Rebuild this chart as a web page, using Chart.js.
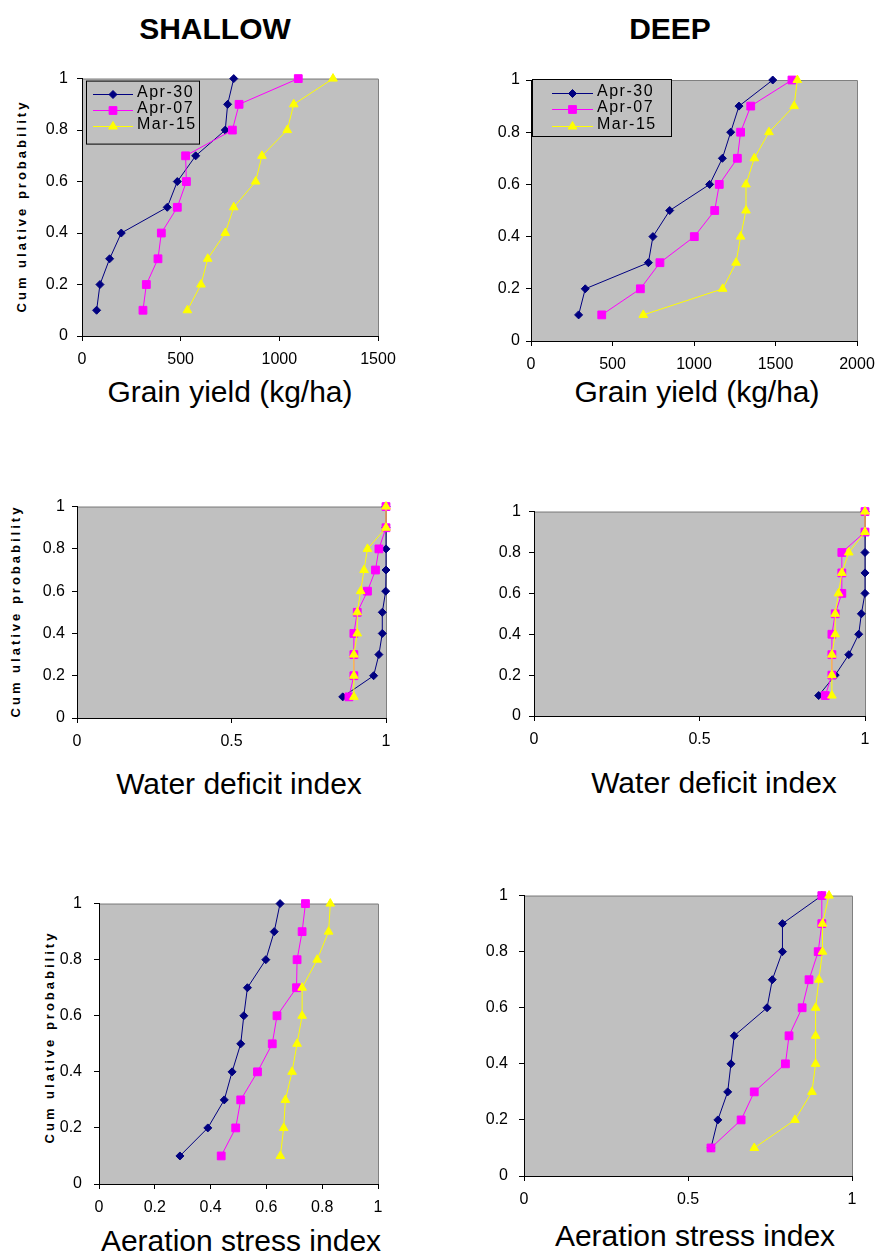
<!DOCTYPE html>
<html>
<head>
<meta charset="utf-8">
<script src="https://cdn.jsdelivr.net/npm/chart.js@4"></script>
<style>
  body { margin: 0; background: #fff; }
  #page { position: relative; width: 879px; height: 1254px; overflow: hidden; font-family: "Liberation Sans", Arial, sans-serif; color: #000; }
  canvas { position: absolute; }
  .t { position: absolute; white-space: nowrap; transform: translateX(-50%); font-size: 30px; line-height: 30px; }
  .head { font-weight: bold; }
  .ylab { position: absolute; white-space: nowrap; font-weight: bold; font-size: 13px; letter-spacing: 3px;
          transform: translate(-50%, -50%) rotate(-90deg); }
</style>
</head>
<body>
<div id="page">
  <div class="t head" style="left:215px; top:14px;">SHALLOW</div>
  <div class="t head" style="left:670px; top:14px;">DEEP</div>

  <div class="t" style="left:230px; top:377px;">Grain yield (kg/ha)</div>
  <div class="t" style="left:697px; top:377px;">Grain yield (kg/ha)</div>
  <div class="t" style="left:239px; top:769px;">Water deficit index</div>
  <div class="t" style="left:714px; top:768px;">Water deficit index</div>
  <div class="t" style="left:241px; top:1226px;">Aeration stress index</div>
  <div class="t" style="left:695px; top:1221px;">Aeration stress index</div>

  <div class="ylab" style="left:21px; top:206px;">Cum ulative probability</div>
  <div class="ylab" style="left:15px; top:611px;">Cum ulative probability</div>
  <div class="ylab" style="left:49px; top:1037px;">Cum ulative probability</div>
</div>

<script>
// cumulative probability levels (y of every point)
const probs = [0.1, 0.2, 0.3, 0.4, 0.5, 0.6, 0.7, 0.8, 0.9, 1.0];
const seriesNames = ['Apr-30', 'Apr-07', 'Mar-15'];

// grain yield (kg/ha)
const shallowYieldApr30 = [74, 91, 140, 199, 432, 483, 576, 726, 738, 769];
const shallowYieldApr07 = [309, 326, 385, 402, 483, 529, 525, 762, 796, 1096];
const shallowYieldMar15 = [534, 603, 637, 726, 769, 880, 912, 1040, 1073, 1272];
const deepYieldApr30 = [292, 333, 720, 748, 851, 1096, 1174, 1225, 1276, 1483];
const deepYieldApr07 = [434, 671, 791, 1002, 1127, 1155, 1266, 1286, 1348, 1601];
const deepYieldMar15 = [689, 1176, 1258, 1286, 1319, 1319, 1370, 1460, 1614, 1634];

// water deficit index
const shallowWdiApr30 = [0.86, 0.96, 0.977, 0.988, 0.988, 0.999, 1, 1, 1, 1];
const shallowWdiApr07 = [0.88, 0.896, 0.896, 0.896, 0.907, 0.94, 0.966, 0.977, 1, 1];
const shallowWdiMar15 = [0.896, 0.896, 0.896, 0.907, 0.907, 0.918, 0.929, 0.94, 1, 1];
const deepWdiApr30 = [0.86, 0.91, 0.951, 0.981, 0.989, 1, 1, 1, 1, 1];
const deepWdiApr07 = [0.88, 0.9, 0.9, 0.9, 0.91, 0.93, 0.93, 0.93, 1, 1];
const deepWdiMar15 = [0.9, 0.9, 0.9, 0.91, 0.91, 0.92, 0.93, 0.951, 1, 1];

// aeration stress index
const shallowAsiApr30 = [0.29, 0.39, 0.449, 0.477, 0.508, 0.519, 0.532, 0.598, 0.628, 0.649];
const shallowAsiApr07 = [0.438, 0.49, 0.508, 0.568, 0.621, 0.638, 0.708, 0.71, 0.728, 0.74];
const shallowAsiMar15 = [0.65, 0.662, 0.668, 0.692, 0.71, 0.728, 0.728, 0.782, 0.823, 0.829];
const deepAsiApr30 = [0.57, 0.591, 0.621, 0.631, 0.641, 0.741, 0.757, 0.788, 0.788, 0.908];
const deepAsiApr07 = [0.57, 0.662, 0.702, 0.797, 0.808, 0.848, 0.869, 0.897, 0.908, 0.908];
const deepAsiMar15 = [0.702, 0.826, 0.878, 0.889, 0.889, 0.889, 0.899, 0.91, 0.91, 0.93];

// tick labels
const probTicks = [0, 0.2, 0.4, 0.6, 0.8, 1];
const shallowYieldTicks = [0, 500, 1000, 1500];
const deepYieldTicks = [0, 500, 1000, 1500, 2000];
const halfTicks = [0, 0.5, 1];
const fifthTicks = [0, 0.2, 0.4, 0.6, 0.8, 1];

const looks = [
  { color: '#000080', point: 'rectRot', r: 4 },
  { color: '#FF00FF', point: 'rect', r: 5.5 },
  { color: '#FFFF00', point: 'triangle', r: 5 }
];

// gray plot area, gray top/right frame
const plotBg = {
  id: 'plotBg',
  beforeDraw(chart) {
    const { ctx, chartArea: a } = chart;
    ctx.save();
    ctx.fillStyle = '#c0c0c0';
    ctx.fillRect(a.left, a.top, a.right - a.left, a.bottom - a.top);
    ctx.strokeStyle = '#808080';
    ctx.lineWidth = 1;
    ctx.beginPath();
    ctx.moveTo(a.left, a.top + 0.5);
    ctx.lineTo(a.right + 0.5, a.top + 0.5);
    ctx.lineTo(a.right + 0.5, a.bottom);
    ctx.stroke();
    ctx.restore();
  }
};

// boxed legend inside the plot area
const boxLegend = {
  id: 'boxLegend',
  afterDatasetsDraw(chart, args, o) {
    if (!o || !o.show) return;
    const { ctx, chartArea: a } = chart;
    const x0 = a.left + o.dx, y0 = a.top + o.dy;
    ctx.save();
    ctx.fillStyle = '#c0c0c0';
    ctx.fillRect(x0, y0, o.w, o.h);
    ctx.strokeStyle = '#000';
    ctx.lineWidth = 1;
    ctx.strokeRect(x0 + 0.5, y0 + 0.5, o.w, o.h);
    chart.data.datasets.forEach((ds, i) => {
      const y = Math.round(y0 + o.rows[i]) + 0.5;
      ctx.strokeStyle = ds.borderColor;
      ctx.fillStyle = ds.backgroundColor;
      ctx.lineWidth = 1;
      ctx.beginPath();
      ctx.moveTo(x0 + o.line[0], y);
      ctx.lineTo(x0 + o.line[1], y);
      ctx.stroke();
      Chart.helpers.drawPoint(ctx, { pointStyle: ds.pointStyle, radius: ds.pointRadius, borderWidth: 1, rotation: 0 },
        x0 + (o.line[0] + o.line[1]) / 2, y);
      ctx.fillStyle = '#000';
      ctx.font = '16px "Liberation Sans", Arial, sans-serif';
      ctx.letterSpacing = '1.5px';
      ctx.textBaseline = 'middle';
      ctx.textAlign = 'left';
      ctx.fillText(ds.label, x0 + o.text, y - 1.5);
    });
    ctx.restore();
  }
};

const panels = [
  { box: [82, 76, 378, 336], xMax: 1500, xTicks: shallowYieldTicks, yPad: 9,
    series: [shallowYieldApr30, shallowYieldApr07, shallowYieldMar15],
    legend: { show: true, dx: 4, dy: 2, w: 113, h: 63, rows: [13.5, 29.5, 45], line: [7, 47], text: 51 } },
  { box: [531, 80, 857, 341], xMax: 2000, xTicks: deepYieldTicks, yPad: 6,
    series: [deepYieldApr30, deepYieldApr07, deepYieldMar15],
    legend: { show: true, dx: 1, dy: -1, w: 139, h: 57, rows: [14, 30, 46.5], line: [20, 61], text: 65 } },
  { box: [77, 506, 386, 718], xMax: 1, xTicks: halfTicks, yPad: 7,
    series: [shallowWdiApr30, shallowWdiApr07, shallowWdiMar15] },
  { box: [534, 510, 865, 716], xMax: 1, xTicks: halfTicks, yPad: 8,
    series: [deepWdiApr30, deepWdiApr07, deepWdiMar15] },
  { box: [99, 898, 378, 1184], xMax: 1, xTicks: fifthTicks, yPad: 12,
    series: [shallowAsiApr30, shallowAsiApr07, shallowAsiMar15] },
  { box: [524, 891, 852, 1176], xMax: 1, xTicks: halfTicks, yPad: 11,
    series: [deepAsiApr30, deepAsiApr07, deepAsiMar15] }
];

const yW = 70, xH = 40, padTop = 16, padRight = 28;
const tickFont = { family: '"Liberation Sans", Arial, sans-serif', size: 16 };
const page = document.getElementById('page');

panels.forEach(p => {
  const [l, t, r, b] = p.box;
  const cv = document.createElement('canvas');
  cv.width = (r - l) + yW + padRight;
  cv.height = (b - t) + padTop + xH;
  cv.style.left = (l - yW) + 'px';
  cv.style.top = (t - padTop) + 'px';
  page.appendChild(cv);

  const datasets = p.series.map((xs, i) => ({
    label: seriesNames[i],
    data: xs.map((x, k) => ({ x: x, y: probs[k] })),
    showLine: true,
    borderColor: looks[i].color,
    backgroundColor: looks[i].color,
    borderWidth: 1,
    pointStyle: looks[i].point,
    pointRadius: looks[i].r,
    pointBorderWidth: 1,
    tension: 0,
    clip: false,
    order: 3 - i
  }));

  const axisGrid = { display: true, drawOnChartArea: false, drawTicks: true, tickLength: 5, color: '#000', lineWidth: 1 };
  const axisBorder = { display: true, color: '#000', width: 1 };

  new Chart(cv.getContext('2d'), {
    type: 'scatter',
    data: { datasets: datasets },
    options: {
      responsive: false,
      animation: false,
      devicePixelRatio: 1,
      events: [],
      layout: { padding: { left: 0, top: padTop, right: padRight, bottom: 0 } },
      plugins: {
        legend: { display: false },
        tooltip: { enabled: false },
        boxLegend: p.legend || { show: false }
      },
      scales: {
        x: {
          type: 'linear', min: 0, max: p.xMax,
          afterBuildTicks: s => { s.ticks = p.xTicks.map(v => ({ value: v })); },
          afterFit: s => { s.height = xH; },
          ticks: { color: '#000', font: tickFont, padding: 9, maxRotation: 0, callback: v => String(v) },
          grid: axisGrid, border: axisBorder
        },
        y: {
          type: 'linear', min: 0, max: 1,
          afterBuildTicks: s => { s.ticks = probTicks.map(v => ({ value: v })); },
          afterFit: s => { s.width = yW; },
          ticks: { color: '#000', font: tickFont, padding: p.yPad, callback: v => String(v) },
          grid: axisGrid, border: axisBorder
        }
      }
    },
    plugins: [plotBg, boxLegend]
  });
});
</script>
</body>
</html>
